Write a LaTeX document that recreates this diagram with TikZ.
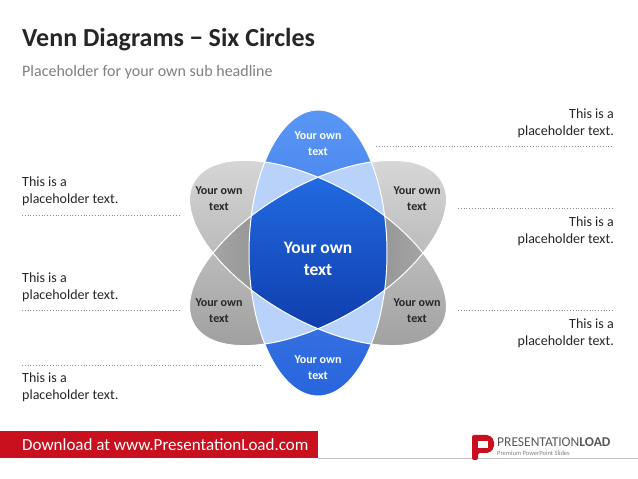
\documentclass[tikz,border=0pt]{standalone}
\usepackage{fontspec}
\setmainfont{Carlito}
\definecolor{bA}{RGB}{90,150,245}
\definecolor{bB}{RGB}{40,100,220}
\definecolor{bL}{RGB}{185,210,250}
\definecolor{cA}{RGB}{40,120,240}
\definecolor{cB}{RGB}{10,50,160}
\definecolor{pr}{RGB}{200,16,30}
\begin{document}
\begin{tikzpicture}[x=1pt,y=1pt,
  ph/.style={font=\fontsize{14}{17}\selectfont,text=black!85,align=left,anchor=north west,inner sep=0},
  phr/.style={font=\fontsize{14}{17}\selectfont,text=black!85,align=right,anchor=north east,inner sep=0},
  dl/.style={draw=black!45,dotted,line width=0.8pt},
  wt/.style={text=white,font=\bfseries\fontsize{12}{16}\selectfont,align=center},
  dt/.style={text=black!85,font=\bfseries\fontsize{12}{16}\selectfont,align=center}]
\useasboundingbox (0,0) rectangle (638,479);
\fill[white] (0,0) rectangle (638,479);
\def\EV{(318,226) ellipse (69 and 143)}
\def\EA{(318,226) ellipse (143 and 68)}
\tikzset{ra/.style={rotate around={-30:(318,226)}},rb/.style={rotate around={30:(318,226)}}}
\shade[ra,top color=black!15,bottom color=black!38] \EA;
\shade[rb,top color=black!15,bottom color=black!38] \EA;
\begin{scope}\clip[ra] \EA; \shade[rb,left color=black!30,right color=black!30,middle color=black!50] \EA; \end{scope}
\shade[top color=bA,bottom color=bB] \EV;
\begin{scope}\clip \EV; \fill[ra,bL] \EA; \fill[rb,bL] \EA; \end{scope}
\begin{scope}\clip \EV; \clip[ra] \EA; \clip[rb] \EA;
 \shade[top color=cA,bottom color=cB] (240,110) rectangle (400,350); \end{scope}
\draw[white,line width=1pt] \EV;
\draw[white,line width=1pt,ra] \EA;
\draw[white,line width=1pt,rb] \EA;
\node[wt] (t1) at (318,335) {Your own\\text};
\node[wt] (t2) at (318,111) {Your own\\text};
\node[dt] (t3) at (219,280) {Your own\\text};
\node[dt] (t4) at (417,280) {Your own\\text};
\node[dt] (t5) at (219,168) {Your own\\text};
\node[dt] (t6) at (417,168) {Your own\\text};
\node[text=white,font=\bfseries\fontsize{17.5}{22}\selectfont,align=center] (tc) at (318,220) {Your own\\text};
\node[anchor=west,inner sep=0,font=\bfseries\fontsize{26}{30}\selectfont,text=black!85] (title) at (22,439) {Venn Diagrams − Six Circles};
\node[anchor=west,inner sep=0,font=\fontsize{16}{18}\selectfont,text=black!50] (sub) at (22,407) {Placeholder for your own sub headline};
\node[phr] (r1) at (614,370) {This is a\\placeholder text.};
\node[phr] (r2) at (614,262) {This is a\\placeholder text.};
\node[phr] (r3) at (614,160) {This is a\\placeholder text.};
\node[ph] (l1) at (22,302) {This is a\\placeholder text.};
\node[ph] (l2) at (22,206) {This is a\\placeholder text.};
\node[ph] (l3) at (22,106) {This is a\\placeholder text.};
\coordinate (a1) at (376,333); \coordinate (a2) at (614,333); \draw[dl] (a1) -- (a2);
\coordinate (b1) at (458,271); \coordinate (b2) at (614,271); \draw[dl] (b1) -- (b2);
\coordinate (c1) at (458,169); \coordinate (c2) at (614,169); \draw[dl] (c1) -- (c2);
\coordinate (d1) at (22,264); \coordinate (d2) at (180,264); \draw[dl] (d1) -- (d2);
\coordinate (e1) at (22,169); \coordinate (e2) at (180,169); \draw[dl] (e1) -- (e2);
\coordinate (f1) at (22,114); \coordinate (f2) at (262,114); \draw[dl] (f1) -- (f2);
\fill[pr] (0,21) rectangle (318,48);
\draw[black!25,line width=0.6pt] (318,21) -- (638,21);
\node[anchor=west,inner sep=0,text=white,font=\fontsize{17}{19}\selectfont] (dl0) at (22,34.5) {Download at www.PresentationLoad.com};
\fill[pr,rounded corners=2pt] (472,19) -- (472,44) -- (489,44) -- (494,39) -- (494,31) -- (489,26) -- (478,26) -- (478,19) -- cycle;
\fill[white] (478,31) rectangle (488,38);
\node[anchor=west,inner sep=0,text=black!65,font=\fontsize{13.5}{14}\selectfont] (lg) at (497,37) {PRESENTATION\textbf{LOAD}};
\node[anchor=west,inner sep=0,text=black!50,font=\fontsize{6.5}{7}\selectfont] (lg2) at (497,26) {Premium PowerPoint Slides};
\end{tikzpicture}
\end{document}
